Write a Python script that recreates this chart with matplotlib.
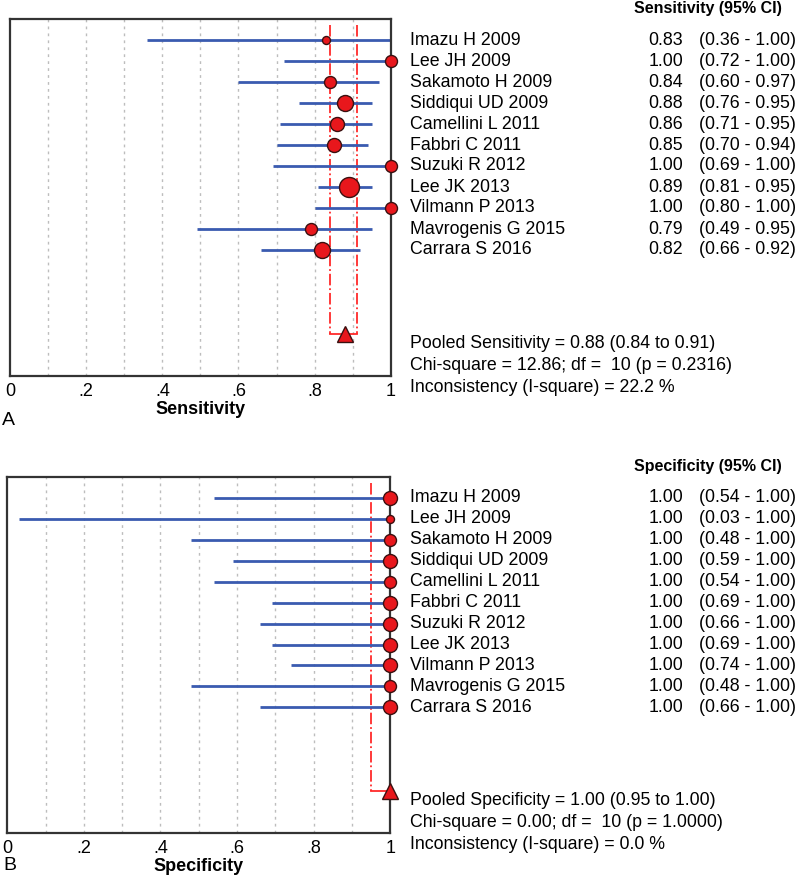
import numpy as np
import matplotlib
matplotlib.use("Agg")
import matplotlib.pyplot as plt
from matplotlib import transforms

plt.rcParams['font.family'] = ['Liberation Sans', 'DejaVu Sans']

studies = ['Imazu H 2009', 'Lee JH 2009', 'Sakamoto H 2009', 'Siddiqui UD 2009',
           'Camellini L 2011', 'Fabbri C 2011', 'Suzuki R 2012', 'Lee JK 2013',
           'Vilmann P 2013', 'Mavrogenis G 2015', 'Carrara S 2016']

sens = [0.83, 1.00, 0.84, 0.88, 0.86, 0.85, 1.00, 0.89, 1.00, 0.79, 0.82]
sens_lo = [0.36, 0.72, 0.60, 0.76, 0.71, 0.70, 0.69, 0.81, 0.80, 0.49, 0.66]
sens_hi = [1.00, 1.00, 0.97, 0.95, 0.95, 0.94, 1.00, 0.95, 1.00, 0.95, 0.92]
sens_weight = [4, 6, 6, 8, 7, 7, 6, 10, 6, 6, 8]  # relative study weight (marker radius)
sens_pooled = [0.88, 0.84, 0.91]
sens_stats = ['Pooled Sensitivity = 0.88 (0.84 to 0.91)',
              'Chi-square = 12.86; df =  10 (p = 0.2316)',
              'Inconsistency (I-square) = 22.2 %']

spec = [1.00] * 11
spec_lo = [0.54, 0.03, 0.48, 0.59, 0.54, 0.69, 0.66, 0.69, 0.74, 0.48, 0.66]
spec_hi = [1.00] * 11
spec_weight = [7, 4, 6, 7, 6, 7, 7, 7, 7, 6, 7]
spec_pooled = [1.00, 0.95, 1.00]
spec_stats = ['Pooled Specificity = 1.00 (0.95 to 1.00)',
              'Chi-square = 0.00; df =  10 (p = 1.0000)',
              'Inconsistency (I-square) = 0.0 %']

ticks = [0, 0.2, 0.4, 0.6, 0.8, 1.0]
tick_labels = ['0', '.2', '.4', '.6', '.8', '1']

fig = plt.figure(figsize=(8, 8.75), dpi=100)


def forest(rect, est, lo, hi, weight, pooled, stats, name):
    ax = fig.add_axes(rect)
    rows = np.arange(1, len(est) + 1)
    pool_row = 15
    for xg in np.arange(0.1, 1.0, 0.1):
        ax.axvline(xg, color='#bdbdbd', lw=1, ls=(0, (2, 3)), zorder=0)
    # pooled CI lines
    ax.plot([pooled[1], pooled[1]], [0.3, pool_row], color='#ff2a2a', lw=1.3, ls='-.', zorder=1)
    ax.plot([pooled[2], pooled[2]], [0.3, pool_row], color='#ff2a2a', lw=1.3, ls='-.', zorder=1)
    ax.plot([pooled[1], pooled[2]], [pool_row, pool_row], color='#ff2a2a', lw=1.3, zorder=1)
    ax.hlines(rows, lo, hi, color='#3a5bb0', lw=2, zorder=2)
    for r, e, w in zip(rows, est, weight):
        ax.plot(e, r, 'o', ms=2 * w / 1.39, mfc='#e8171c', mec='#3a1010', mew=1,
                zorder=3, clip_on=False)
    ax.plot(pooled[0], pool_row, '^', ms=11, mfc='#e8171c', mec='#3a1010', mew=1,
            zorder=3, clip_on=False)
    ax.set_xlim(0, 1)
    ax.set_ylim(17, 0)
    ax.set_yticks([])
    ax.set_xticks(ticks)
    ax.set_xticklabels(tick_labels, fontsize=13)
    ax.tick_params(axis='x', length=0, pad=5)
    for s in ax.spines.values():
        s.set_color('#333333')
        s.set_linewidth(1.6)
    ax.set_xlabel(name, fontsize=13, fontweight='bold', labelpad=1)

    tr = transforms.blended_transform_factory(fig.transFigure, ax.transData)
    ax.text(0.885, -0.5, name + ' (95% CI)', transform=tr, fontsize=11.5,
            fontweight='bold', ha='center', va='center')
    for r, s, e, l, h in zip(rows, studies, est, lo, hi):
        ax.text(0.513, r, s, transform=tr, fontsize=12.8, va='center')
        ax.text(0.854, r, f'{e:.2f}', transform=tr, fontsize=12.8, va='center', ha='right')
        ax.text(0.874, r, f'({l:.2f} - {h:.2f})', transform=tr, fontsize=12.8, va='center')
    for i, line in enumerate(stats):
        ax.text(0.513, 15.45 + 1.04 * i, line, transform=tr, fontsize=12.8, va='center')
    return ax


forest([0.0125, 1 - 376 / 875, 0.476, 357 / 875], sens, sens_lo, sens_hi, sens_weight,
       sens_pooled, sens_stats, 'Sensitivity')
forest([0.009, 1 - 833 / 875, 0.479, 356 / 875], spec, spec_lo, spec_hi, spec_weight,
       spec_pooled, spec_stats, 'Specificity')
fig.text(0.002, 1 - 421 / 875, 'A', fontsize=14, va='center')
fig.text(0.004, 1 - 866 / 875, 'B', fontsize=14, va='center')

fig.savefig('out.png', dpi=100)
